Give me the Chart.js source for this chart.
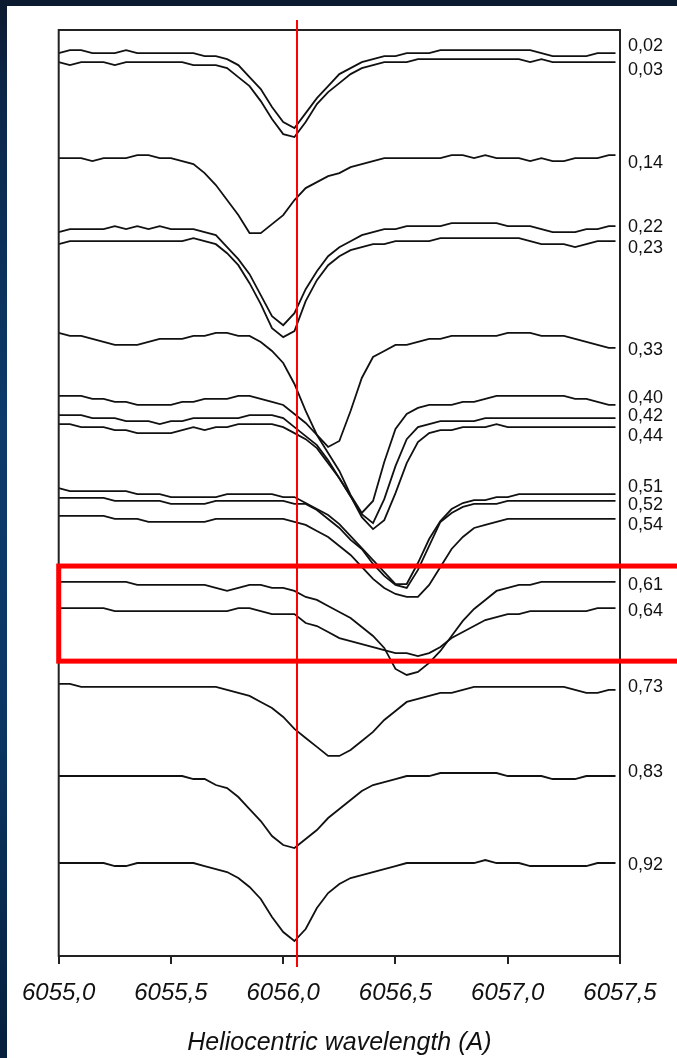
<!DOCTYPE html>
<html>
<head>
<meta charset="utf-8">
<script src="https://cdn.jsdelivr.net/npm/chart.js@4.4.1/dist/chart.umd.min.js"></script>
<style>
  html, body { margin: 0; padding: 0; }
  body {
    width: 677px; height: 1058px; overflow: hidden; position: relative;
    background: linear-gradient(180deg, #0b1a2f 0px, #0b2748 90px, #0b3a6b 420px, #0a3664 720px, #06203d 1058px);
  }
  #panel { position: absolute; left: 7px; top: 6px; width: 670px; height: 1052px; background: #fff; }
</style>
</head>
<body>
<div id="panel"><canvas id="spectra"></canvas></div>
<script>
// wavelength grid (Angstrom)
const wave = [
  6055.00, 6055.05, 6055.10, 6055.15, 6055.20, 6055.25, 6055.30, 6055.35, 6055.40, 6055.45,
  6055.50, 6055.55, 6055.60, 6055.65, 6055.70, 6055.75, 6055.80, 6055.85, 6055.90, 6055.95,
  6056.00, 6056.05, 6056.10, 6056.15, 6056.20, 6056.25, 6056.30, 6056.35, 6056.40, 6056.45,
  6056.50, 6056.55, 6056.60, 6056.65, 6056.70, 6056.75, 6056.80, 6056.85, 6056.90, 6056.95,
  6057.00, 6057.05, 6057.10, 6057.15, 6057.20, 6057.25, 6057.30, 6057.35, 6057.40, 6057.45,
  6057.48
];

// pulsation phases, one spectrum each
const phases = ['0,02', '0,03', '0,14', '0,22', '0,23', '0,33', '0,40', '0,42', '0,44',
                '0,51', '0,52', '0,54', '0,61', '0,64', '0,73', '0,83', '0,92'];

// vertical shift of each spectrum (continuum level)
const levels = [3.010, 2.980, 2.660, 2.423, 2.383, 2.067, 1.857, 1.793, 1.763,
                1.540, 1.517, 1.457, 1.237, 1.150, 0.897, 0.600, 0.310];

// normalised flux
const f002 = [1.00,1.01,1.01,1.00,1.00,1.00,1.01,1.00,1.00,1.00, 1.00,1.00,1.00,0.99,0.99,0.98,0.96,0.92,0.88,0.82, 0.77,0.75,0.80,0.85,0.89,0.93,0.95,0.97,0.98,0.99, 0.99,1.00,1.00,1.00,1.01,1.01,1.01,1.01,1.01,1.01, 1.01,1.01,1.01,1.00,0.99,0.99,0.99,0.99,1.00,1.00, 1.00];
const f003 = [1.00,0.99,1.00,1.00,1.00,0.99,1.00,1.00,1.00,1.00, 1.00,1.00,0.99,0.99,0.99,0.98,0.95,0.92,0.87,0.81, 0.76,0.75,0.80,0.86,0.90,0.93,0.96,0.98,0.99,1.00, 1.00,1.00,1.01,1.01,1.01,1.01,1.01,1.01,1.01,1.01, 1.01,1.01,1.00,1.01,1.00,1.00,1.00,1.00,1.00,1.00, 1.00];
const f014 = [1.00,1.00,1.00,0.99,1.00,1.00,1.00,1.01,1.01,1.00, 1.00,0.99,0.98,0.95,0.91,0.86,0.81,0.75,0.75,0.78, 0.81,0.86,0.90,0.92,0.94,0.95,0.97,0.98,0.99,1.00, 1.00,1.00,1.00,1.00,1.00,1.01,1.01,1.00,1.01,1.00, 1.00,1.00,0.99,1.00,0.99,0.99,1.00,1.00,1.00,1.01, 1.01];
const f022 = [0.99,1.00,1.00,1.00,1.00,1.01,1.00,1.01,1.00,1.01, 1.00,1.00,1.00,0.99,0.98,0.94,0.90,0.85,0.78,0.71, 0.68,0.72,0.80,0.86,0.91,0.94,0.96,0.98,0.99,1.00, 1.00,1.01,1.01,1.01,1.01,1.02,1.02,1.02,1.02,1.02, 1.01,1.01,1.01,1.00,0.99,0.99,0.99,1.00,1.00,1.01, 1.01];
const f023 = [0.99,1.00,1.00,1.00,1.00,1.00,1.00,1.00,1.00,1.00, 1.00,1.00,1.01,1.00,0.99,0.96,0.92,0.86,0.79,0.71, 0.68,0.70,0.80,0.87,0.92,0.95,0.97,0.98,0.99,0.99, 1.00,1.00,1.00,1.00,1.01,1.01,1.01,1.01,1.01,1.01, 1.01,1.01,1.00,0.99,0.99,0.99,0.98,0.99,1.00,1.00, 1.00];
const f033 = [1.01,1.00,1.00,0.99,0.98,0.97,0.97,0.97,0.98,0.99, 0.99,0.99,1.00,1.00,1.01,1.01,1.00,1.00,0.98,0.95, 0.91,0.84,0.75,0.67,0.63,0.65,0.75,0.86,0.93,0.95, 0.97,0.97,0.98,0.99,0.99,1.00,1.00,1.00,1.00,1.00, 1.01,1.01,1.01,1.00,1.00,1.00,0.99,0.98,0.97,0.96, 0.96];
const f040 = [1.01,1.01,1.01,1.00,1.00,0.99,0.99,0.98,0.98,0.98, 0.98,0.99,0.99,1.00,1.00,1.00,1.01,1.01,1.00,0.99, 0.98,0.95,0.92,0.88,0.82,0.76,0.68,0.62,0.66,0.79, 0.90,0.95,0.97,0.98,0.98,0.98,0.99,0.99,1.00,1.01, 1.01,1.01,1.01,1.01,1.01,1.01,1.00,1.00,0.99,0.98, 0.98];
const f042 = [1.01,1.01,1.01,1.00,1.00,1.00,0.99,0.99,0.99,0.98, 0.99,0.99,1.00,1.00,1.00,1.00,1.00,1.01,1.01,1.01, 1.00,0.97,0.94,0.91,0.86,0.80,0.74,0.68,0.65,0.73, 0.84,0.93,0.97,0.98,0.99,0.99,0.99,0.99,1.00,1.00, 1.00,1.00,1.00,1.00,1.00,1.00,1.00,1.00,1.00,1.00, 1.00];
const f044 = [1.01,1.01,1.00,1.00,1.00,0.99,0.99,0.98,0.98,0.98, 0.98,0.99,1.00,0.99,1.00,1.00,1.01,1.01,1.01,1.01, 1.00,0.98,0.96,0.93,0.88,0.83,0.77,0.70,0.66,0.69, 0.78,0.88,0.95,0.98,0.99,0.99,1.00,1.00,1.00,1.01, 1.00,1.00,1.00,1.00,1.00,1.00,1.00,1.00,1.00,1.00, 1.00];
const f051 = [1.02,1.01,1.01,1.01,1.01,1.01,1.01,1.00,1.00,1.00, 0.99,0.99,0.99,0.99,0.99,1.00,1.00,1.00,1.00,1.00, 0.99,0.99,0.97,0.95,0.93,0.90,0.86,0.82,0.78,0.74, 0.70,0.70,0.77,0.85,0.91,0.95,0.97,0.98,0.98,0.99, 0.99,1.00,1.00,1.00,1.00,1.00,1.00,1.00,1.00,1.00, 1.00];
const f052 = [1.01,1.01,1.01,1.01,1.01,1.00,1.00,1.00,1.00,1.00, 0.99,0.99,0.99,0.99,1.00,1.00,1.00,1.00,1.00,1.00, 1.00,0.99,0.99,0.97,0.94,0.91,0.87,0.84,0.79,0.75, 0.72,0.71,0.77,0.85,0.93,0.96,0.98,0.99,0.99,0.99, 1.00,1.00,1.00,1.00,1.00,1.00,1.00,1.00,1.00,1.00, 1.00];
const f054 = [1.01,1.01,1.01,1.01,1.01,1.00,1.00,1.00,0.99,0.99, 0.99,0.99,0.99,0.99,1.00,1.00,1.00,1.00,1.00,1.00, 1.00,0.99,0.98,0.96,0.94,0.91,0.88,0.84,0.80,0.77, 0.75,0.74,0.74,0.78,0.84,0.90,0.94,0.97,0.98,0.99, 1.00,1.00,1.00,1.00,1.00,1.00,1.00,1.00,1.00,1.00, 1.00];
const f061 = [1.01,1.01,1.01,1.01,1.01,1.01,1.01,1.00,1.00,1.00, 1.00,1.00,1.00,1.00,0.99,0.98,0.99,1.00,1.00,0.99, 0.99,0.98,0.96,0.95,0.93,0.91,0.89,0.86,0.83,0.79, 0.72,0.70,0.71,0.74,0.78,0.83,0.88,0.92,0.95,0.98, 0.99,1.00,1.00,1.01,1.01,1.01,1.01,1.01,1.01,1.01, 1.01];
const f064 = [1.01,1.01,1.01,1.01,1.01,1.00,1.00,1.00,1.00,1.00, 1.00,1.00,1.00,1.00,1.00,1.00,1.01,1.01,1.00,0.99, 0.99,0.99,0.96,0.95,0.93,0.91,0.90,0.89,0.88,0.87, 0.86,0.86,0.85,0.86,0.88,0.91,0.93,0.95,0.97,0.98, 0.99,0.99,1.00,1.00,1.00,1.00,1.00,1.00,1.01,1.01, 1.01];
const f073 = [1.01,1.01,1.00,1.00,1.00,1.00,1.00,1.00,1.00,1.00, 1.00,1.00,1.00,1.00,1.00,0.99,0.98,0.97,0.95,0.93, 0.90,0.86,0.83,0.80,0.77,0.77,0.79,0.82,0.85,0.89, 0.92,0.95,0.96,0.97,0.98,0.98,0.99,1.00,1.00,1.00, 1.00,1.00,1.00,1.00,1.00,1.00,0.99,0.98,0.98,0.99, 0.99];
const f083 = [1.00,1.00,1.00,1.00,1.00,1.00,1.00,1.00,1.00,1.00, 1.00,1.00,0.99,0.99,0.97,0.96,0.93,0.89,0.85,0.80, 0.77,0.76,0.79,0.82,0.86,0.89,0.92,0.95,0.97,0.98, 0.99,1.00,1.00,1.00,1.01,1.01,1.01,1.01,1.01,1.01, 1.00,1.00,1.00,1.00,0.99,0.99,0.99,1.00,1.00,1.00, 1.00];
const f092 = [1.00,1.00,1.00,1.00,1.00,0.99,0.99,1.00,1.00,1.00, 1.00,1.00,1.00,0.99,0.98,0.97,0.95,0.92,0.88,0.82, 0.77,0.74,0.78,0.85,0.90,0.93,0.95,0.96,0.97,0.98, 0.99,1.00,1.00,1.00,1.00,1.00,1.00,1.00,1.01,1.00, 1.00,1.00,0.99,0.99,0.99,0.99,0.99,0.99,1.00,1.00, 1.00];

const fluxes = [f002, f003, f014, f022, f023, f033, f040, f042, f044,
                f051, f052, f054, f061, f064, f073, f083, f092];

const restWave = 6056.063;          // red reference line
const boxWave = [6055.0, 6057.8];    // highlighted phases 0,61 - 0,64
const boxLevel = [0.983, 1.300];
const xTicks = [6055.0, 6055.5, 6056.0, 6056.5, 6057.0, 6057.5];

// small shifts (px) so the phase labels don't collide
const labelNudge = [-7, 8, 8, 1, 7, 2, -7, -2, 9, -7, 4, 6, 3, 3, -3, -4, 2];

const FONT = '"Liberation Sans", Arial, Helvetica, sans-serif';

const datasets = phases.map((p, i) => ({
    label: p,
    data: wave.map((w, j) => ({ x: w, y: levels[i] + fluxes[i][j] - 1 })),
    borderColor: '#111',
    borderWidth: 1.8,
    pointRadius: 0,
    fill: false,
    tension: 0
}));

const decor = {
    id: 'decor',
    afterDatasetsDraw(chart) {
        const ctx = chart.ctx;
        const a = chart.chartArea;
        const x = chart.scales.x;
        const y = chart.scales.y;
        ctx.save();

        // frame
        ctx.strokeStyle = '#222';
        ctx.lineWidth = 2;
        ctx.strokeRect(a.left, a.top, a.right - a.left, a.bottom - a.top);

        // reference wavelength
        const rx = Math.round(x.getPixelForValue(restWave));
        ctx.strokeStyle = '#ff0000';
        ctx.lineWidth = 2;
        ctx.beginPath();
        ctx.moveTo(rx, a.top - 10);
        ctx.lineTo(rx, a.bottom + 11);
        ctx.stroke();

        // highlight box
        const bx1 = x.getPixelForValue(boxWave[0]);
        const bx2 = x.getPixelForValue(boxWave[1]);
        const by1 = y.getPixelForValue(boxLevel[1]);
        const by2 = y.getPixelForValue(boxLevel[0]);
        ctx.lineWidth = 5;
        ctx.strokeRect(bx1, by1, bx2 - bx1, by2 - by1);

        // phase labels
        ctx.fillStyle = '#111';
        ctx.font = '18px ' + FONT;
        ctx.textAlign = 'left';
        ctx.textBaseline = 'middle';
        phases.forEach((p, i) => {
            const last = fluxes[i].length - 1;
            const py = y.getPixelForValue(levels[i] + fluxes[i][last] - 1) + labelNudge[i];
            ctx.fillText(p, a.right + 8, py);
        });
        ctx.restore();
    }
};

new Chart(document.getElementById('spectra'), {
    type: 'line',
    data: { datasets: datasets },
    options: {
        responsive: true,
        maintainAspectRatio: false,
        animation: false,
        layout: { padding: { left: 49, right: 57, top: 24, bottom: 0 } },
        plugins: {
            legend: { display: false },
            tooltip: { enabled: false }
        },
        scales: {
            x: {
                type: 'linear',
                min: 6055,
                max: 6057.5,
                afterFit(scale) { scale.height = 102; },
                afterBuildTicks(scale) { scale.ticks = xTicks.map(v => ({ value: v })); },
                ticks: {
                    autoSkip: false,
                    maxRotation: 0,
                    padding: 15,
                    color: '#111',
                    font: { family: FONT, size: 24, style: 'italic' },
                    callback: v => v.toFixed(1).replace('.', ',')
                },
                grid: { drawOnChartArea: false, drawTicks: true, tickLength: 8, color: '#222', lineWidth: 2 },
                border: { display: true, color: '#222', width: 2 },
                title: {
                    display: true,
                    text: 'Heliocentric wavelength (A)',
                    color: '#111',
                    font: { family: FONT, size: 25, style: 'italic' },
                    padding: { top: 0, bottom: 0 }
                }
            },
            y: {
                display: false,
                min: 0,
                max: 3.087
            }
        }
    },
    plugins: [decor]
});
</script>
</body>
</html>
